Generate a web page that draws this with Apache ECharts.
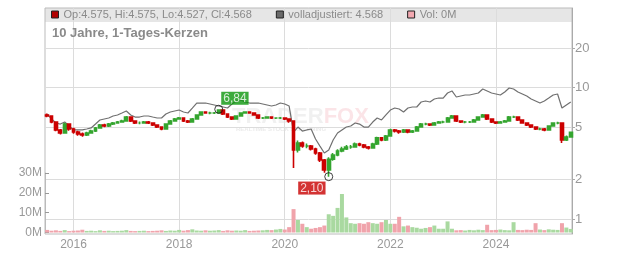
<!DOCTYPE html>
<html><head><meta charset="utf-8">
<script src="https://cdn.jsdelivr.net/npm/echarts@6/dist/echarts.min.js"></script>
<style>html,body{margin:0;padding:0;background:#fff}#c{width:632px;height:253px}</style>
</head><body><div id="c"></div>
<script>
// Monthly samples Jul 2015 .. Jun 2025
const months = [];
for (let y = 2015, m = 7; months.length < 120; m++) { if (m > 12) { m = 1; y++; } months.push(y + '-' + String(m).padStart(2, '0')); }

const firstOpen = 6.19;
const closes = [
 6.08,5.47,4.76,4.51,5.28,4.84,4.59,4.44,4.36,4.51,
 4.67,4.93,5.19,5.10,5.28,5.38,5.47,5.57,5.97,5.57,
 5.38,5.38,5.47,5.38,5.19,5.01,4.84,5.28,5.57,5.77,
 5.87,5.57,5.47,5.77,6.19,6.52,6.41,6.41,6.41,6.75,
 6.30,5.97,5.77,6.08,6.41,6.52,6.41,6.19,5.87,5.87,
 5.97,5.87,5.87,5.87,5.77,5.57,3.35,3.79,3.59,3.59,
 3.41,3.18,2.81,2.36,2.85,3.07,3.29,3.41,3.53,3.53,
 3.72,3.66,3.53,3.47,3.72,4.14,3.99,4.28,4.76,4.67,
 4.59,4.76,4.59,4.67,5.01,5.28,5.28,5.19,5.38,5.47,
 5.47,5.87,6.08,5.57,5.47,5.47,5.47,5.67,5.97,6.19,
 5.77,5.47,5.38,5.47,5.57,5.97,5.97,5.67,5.38,5.19,
 5.01,4.84,4.84,4.76,5.10,5.38,5.38,3.99,4.21,4.57];
const highs = [
 6.35,6.15,5.55,4.85,5.40,5.35,4.95,4.70,4.55,4.62,
 4.78,5.02,5.28,5.30,5.38,5.48,5.58,5.70,6.08,6.05,
 5.65,5.52,5.58,5.56,5.45,5.26,5.08,5.36,5.66,5.86,
 5.98,5.92,5.66,5.86,6.28,6.62,6.60,6.55,6.52,6.84,
 6.80,6.38,6.05,6.16,6.50,6.62,6.60,6.48,6.25,5.98,
 6.06,6.04,5.96,5.97,5.95,5.85,5.60,3.95,3.88,3.75,
 3.66,3.48,3.24,2.86,2.95,3.18,3.40,3.55,3.65,3.66,
 3.82,3.80,3.72,3.60,3.80,4.22,4.20,4.36,4.86,4.85,
 4.76,4.85,4.82,4.76,5.10,5.38,5.40,5.35,5.48,5.58,
 5.60,5.98,6.19,6.12,5.64,5.58,5.57,5.76,6.06,6.30,
 6.24,5.84,5.55,5.57,5.68,6.08,6.10,6.02,5.72,5.45,
 5.26,5.08,4.95,4.92,5.18,5.46,5.50,5.42,4.32,4.62];
const lows = [
 5.95,5.35,4.65,4.40,4.45,4.70,4.45,4.30,4.22,4.28,
 4.45,4.60,4.88,5.00,5.02,5.20,5.30,5.40,5.50,5.48,
 5.28,5.25,5.30,5.28,5.10,4.92,4.74,4.80,5.22,5.50,
 5.70,5.48,5.38,5.40,5.70,6.10,6.32,6.28,6.30,6.35,
 6.20,5.88,5.68,5.72,6.02,6.35,6.32,6.10,5.78,5.76,
 5.80,5.78,5.78,5.77,5.68,5.40,2.44,3.20,3.48,3.45,
 3.32,3.08,2.72,2.25,2.10,2.78,3.00,3.22,3.35,3.42,
 3.48,3.58,3.45,3.38,3.42,3.66,3.90,3.92,4.22,4.56,
 4.45,4.52,4.50,4.52,4.62,4.95,5.16,5.10,5.12,5.30,
 5.36,5.40,5.80,5.48,5.38,5.36,5.37,5.40,5.60,5.90,
 5.68,5.38,5.28,5.30,5.40,5.50,5.86,5.58,5.30,5.10,
 4.92,4.75,4.74,4.66,4.70,5.04,5.26,3.79,3.92,4.15];
const adjusted = [
 6.30,5.77,5.38,5.28,5.47,5.10,4.76,4.76,4.76,4.84,
 4.93,5.28,5.67,5.77,5.87,6.08,6.19,6.41,6.64,6.19,
 5.97,5.97,6.08,6.08,5.97,5.87,5.87,6.30,6.52,6.64,
 6.75,6.52,6.41,6.99,7.63,7.63,7.63,7.50,7.37,7.24,
 7.12,6.99,7.50,7.91,8.04,7.77,7.63,7.63,7.63,7.50,
 7.37,7.24,7.37,7.63,7.50,7.24,4.59,5.01,4.67,4.76,
 4.84,4.06,3.59,3.18,3.35,3.99,4.51,4.76,5.01,5.10,
 5.38,5.28,5.01,5.01,5.47,5.87,5.67,6.19,6.75,6.99,
 6.87,6.52,6.99,7.12,7.12,7.77,7.91,7.77,8.19,8.33,
 8.33,9.10,9.43,8.48,8.63,8.78,8.78,8.94,9.10,9.76,
 9.43,9.10,8.94,8.78,9.26,9.93,9.76,9.26,8.94,8.63,
 8.19,7.91,7.63,7.91,8.33,8.78,8.94,6.99,7.37,7.77];
const volumes = [ // millions
 1.3,0.9,1.1,0.8,1.2,0.7,0.9,1.0,1.4,0.8,
 0.9,0.7,1.1,0.8,0.9,0.7,0.8,0.9,1.2,0.8,
 0.7,0.8,0.9,0.7,0.8,0.9,1.1,0.8,1.0,0.9,
 1.3,0.9,1.2,1.6,1.0,0.9,1.1,0.9,1.0,1.2,
 0.8,1.1,0.9,1.0,0.9,1.2,0.8,0.9,1.0,1.1,
 1.3,1.2,1.5,1.8,1.5,2.7,11.8,6.3,4.4,2.7,
 1.9,2.3,2.7,3.5,9.2,8.4,12.4,19.4,7.6,4.7,
 4.4,4.7,4.4,5.2,4.7,4.4,5.2,6.3,4.4,4.4,
 7.9,3.1,3.5,2.7,2.4,1.9,2.3,2.7,3.5,1.9,
 1.9,5.6,1.9,1.1,1.2,1.0,1.3,1.1,1.4,1.2,
 3.9,1.2,1.3,1.5,1.2,1.1,5.2,1.3,1.2,1.4,
 1.3,4.7,1.5,1.2,1.6,1.4,1.3,4.7,2.5,1.8];
const markIndex = [39, 64], markValue = [6.84, 2.10], markLabel = ['6,84', '2,10'];
const priceTicks = [1, 2, 5, 10, 20];
const yearTicks = [2016, 2018, 2020, 2022, 2024];

const L = Math.log10;
const toX = s => +s.slice(0, 4) + (+s.slice(5, 7) - 1) / 12;
const opens = closes.map((c, i) => i === 0 ? firstOpen : closes[i - 1]);
const candles = closes.map((c, i) => [toX(months[i]), L(opens[i]), L(c), L(lows[i]), L(highs[i])]);
const adjData = adjusted.map((a, i) => [toX(months[i]), L(a)]);
const volData = volumes.map((v, i) => ({ value: [toX(months[i]), v], itemStyle: { color: closes[i] >= opens[i] ? '#a9d9a0' : '#f0a3ab' } }));
const markData = markIndex.map((idx, k) => {
  const up = k === 0;
  return {
    value: [toX(months[idx]), L(markValue[k])],
    label: {
      show: true, formatter: markLabel[k], color: '#fff', fontSize: 12, lineHeight: 12,
      padding: [1, 2, 0, 2], backgroundColor: up ? '#0c960c' : '#c80000',
      position: up ? [7, -13] : [1.3, 9.4], align: up ? 'left' : 'right', verticalAlign: 'top'
    }
  };
});

const XMIN = 2015.46, XMAX = 2025.44;
const YMIN = -0.1142, YMAX = 1.6058;
const FONT = '"Liberation Sans", Arial, sans-serif';
const chart = echarts.init(document.getElementById('c'), null, { renderer: 'canvas' });
chart.setOption({
  animation: false,
  textStyle: { fontFamily: FONT },
  title: { text: '10 Jahre, 1-Tages-Kerzen', left: 52, top: 27, padding: 0, textStyle: { fontSize: 13, fontWeight: 'bold', color: '#8a8a8a', fontFamily: FONT } },
  legend: {
    left: 51, top: 9, padding: 0, itemWidth: 7, itemHeight: 7, itemGap: 24, selectedMode: false,
    textStyle: { fontSize: 11, color: '#8a8a8a', fontFamily: FONT },
    data: [
      { name: 'Kurs', icon: 'rect', itemStyle: { color: '#b00000', borderColor: '#222', borderWidth: 1 } },
      { name: 'volladjustiert', icon: 'rect', itemStyle: { color: '#6a6a6a', borderColor: '#222', borderWidth: 1 } },
      { name: 'Vol', icon: 'rect', itemStyle: { color: '#f2a8b0', borderColor: '#222', borderWidth: 1 } }
    ],
    formatter: n => n === 'Kurs' ? 'Op:4.575, Hi:4.575, Lo:4.527, Cl:4.568' : n === 'volladjustiert' ? 'volladjustiert: 4.568' : 'Vol: 0M'
  },
  graphic: [
    { type: 'rect', left: 45, top: 8, z: -10, shape: { width: 527, height: 14 }, style: { fill: '#e6e6e6' } },
    { type: 'text', left: 232, top: 106, z: -5, style: { text: '{a|TRADER}{b|FOX}', rich: { a: { font: 'bold 22px ' + FONT, fill: 'rgba(170,170,170,0.18)' }, b: { font: 'bold 22px ' + FONT, fill: 'rgba(235,120,135,0.2)' } } } },
    { type: 'text', left: 236, top: 126, z: -5, style: { text: 'REALTIME STOCK SCREENING', font: 'bold 6px ' + FONT, fill: 'rgba(170,170,170,0.25)' } }
  ],
  grid: [
    { left: 45, right: 60, top: 8, bottom: 19, show: true, borderColor: '#bbb', borderWidth: 1, backgroundColor: 'transparent' },
    { left: 45, right: 60, top: 173, height: 59.5 }
  ],
  xAxis: [
    { type: 'value', gridIndex: 0, min: XMIN, max: XMAX, position: 'bottom',
      axisLine: { show: false }, axisTick: { show: false, customValues: yearTicks },
      axisLabel: { customValues: yearTicks, formatter: v => String(Math.round(v)), color: '#999', fontSize: 12, margin: 5 },
      splitLine: { show: true, lineStyle: { color: '#dcdcdc', width: 1 } } },
    { type: 'value', gridIndex: 1, min: XMIN, max: XMAX, show: false, splitLine: { show: false } }
  ],
  yAxis: [
    { type: 'value', gridIndex: 0, position: 'right', min: YMIN, max: YMAX,
      axisLine: { show: true, lineStyle: { color: '#aaa' } },
      axisTick: { show: true, length: 3, customValues: priceTicks.map(L), lineStyle: { color: '#aaa' } },
      axisLabel: { customValues: priceTicks.map(L), formatter: v => String(Math.round(Math.pow(10, v))), color: '#999', fontSize: 13, margin: 3 },
      splitLine: { show: true, lineStyle: { color: '#dcdcdc', width: 1 } } },
    { type: 'value', gridIndex: 1, position: 'left', min: 0, max: 30, interval: 10,
      axisLine: { show: true, lineStyle: { color: '#bbb' } },
      axisTick: { show: true, inside: true, length: 4, lineStyle: { color: '#999' } },
      axisLabel: { formatter: v => v + 'M', color: '#999', fontSize: 12, margin: 3 },
      splitLine: { show: false } }
  ],
  series: [
    { type: 'bar', name: 'Vol', xAxisIndex: 1, yAxisIndex: 1, barWidth: 4, data: volData, z: 1 },
    { type: 'line', name: 'volladjustiert', xAxisIndex: 0, yAxisIndex: 0, data: adjData, symbol: 'none',
      lineStyle: { color: '#707070', width: 1.2 }, itemStyle: { color: '#6a6a6a' }, z: 3 },
    { type: 'candlestick', name: 'Kurs', xAxisIndex: 0, yAxisIndex: 0, data: candles, barWidth: 3.4,
      itemStyle: { color: '#34a52f', color0: '#cc0000', borderColor: '#34a52f', borderColor0: '#cc0000', borderWidth: 1.6 }, z: 4 },
    { type: 'scatter', name: 'marks', xAxisIndex: 0, yAxisIndex: 0, data: markData, symbol: 'circle', symbolSize: 8,
      itemStyle: { color: 'rgba(255,255,255,0)', borderColor: '#111', borderWidth: 1 }, z: 6 }
  ]
});
</script></body></html>
